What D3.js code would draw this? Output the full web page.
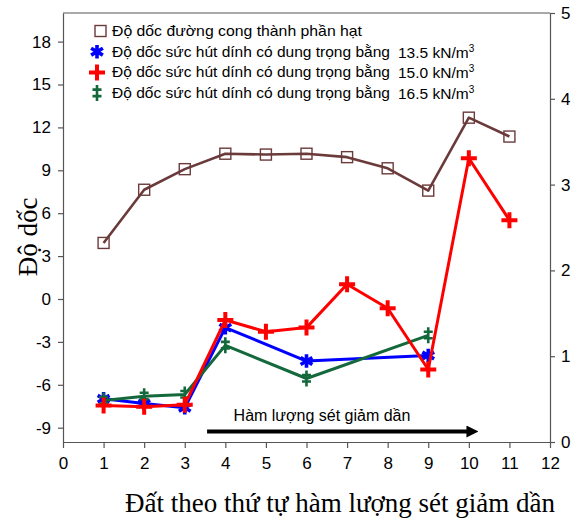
<!DOCTYPE html>
<html>
<head>
<meta charset="utf-8">
<script src="https://cdn.jsdelivr.net/npm/d3@7/dist/d3.min.js"></script>
<style>
  html, body { margin: 0; padding: 0; background: #fff; }
  svg { display: block; }
  .sans { font-family: "Liberation Sans", Arial, sans-serif; }
  .serif { font-family: "Liberation Serif", "Times New Roman", serif; }
</style>
</head>
<body>
<svg id="chart" width="576" height="522"></svg>
<script>
// Soils in order of decreasing clay content
const soils = [1, 2, 3, 4, 5, 6, 7, 8, 9, 10, 11];

// Slope of the grain-size curve (right axis)
const gradingSlope = [2.32, 2.94, 3.18, 3.36, 3.35, 3.36, 3.32, 3.19, 2.93, 3.78, 3.56];

// Slope of the suction curve for each unit weight (left axis); null = not measured
const suction135 = [-6.98, -7.31, -7.61, -2.0, null, -4.34, null, null, -3.95, null, null];
const suction150 = [-7.45, -7.54, -7.4, -1.47, -2.29, -2.0, 1.03, -0.65, -4.93, 9.84, 5.51];
const suction165 = [-7.1, -6.8, -6.68, -3.24, null, -5.56, null, null, -2.54, null, null];

const xTicks = [0, 1, 2, 3, 4, 5, 6, 7, 8, 9, 10, 11, 12];
const yLeftTicks = [-9, -6, -3, 0, 3, 6, 9, 12, 15, 18];
const yRightTicks = [0, 1, 2, 3, 4, 5];

const legendLabels = [
  "Độ dốc đường cong thành phần hạt",
  "Độ dốc sức hút dính có dung trọng bằng",
  "Độ dốc sức hút dính có dung trọng bằng",
  "Độ dốc sức hút dính có dung trọng bằng"
];
const legendUnits = [null, "13.5", "15.0", "16.5"];

const svg = d3.select("#chart");
const L = 63, R = 550, T = 13, B = 442;

const x = d3.scaleLinear().domain([0, 12]).range([L, R]);
const yL = d3.scaleLinear().domain([-10, 20]).range([B, T]);
const yR = d3.scaleLinear().domain([0, 5]).range([B, T]);

const axisColor = "#555";
const plainNum = d => String(d);

// Frame top edge
svg.append("line").attr("x1", L).attr("x2", R).attr("y1", T).attr("y2", T)
  .attr("stroke", axisColor).attr("stroke-width", 1.2);

function styleAxis(g) {
  g.select(".domain").attr("stroke", axisColor).attr("stroke-width", 1.2);
  g.selectAll(".tick line").attr("stroke", axisColor).attr("stroke-width", 1.2);
  g.selectAll(".tick text").attr("fill", "#000")
    .attr("font-family", "Liberation Sans, Arial, sans-serif").attr("font-size", 17);
}

svg.append("g").attr("transform", `translate(0,${B})`)
  .call(d3.axisBottom(x).tickValues(xTicks).tickFormat(plainNum)
    .tickSize(6).tickSizeOuter(0).tickPadding(9))
  .call(styleAxis);

svg.append("g").attr("transform", `translate(${L},0)`)
  .call(d3.axisLeft(yL).tickValues(yLeftTicks).tickFormat(plainNum)
    .tickSize(5).tickSizeOuter(0).tickPadding(7))
  .call(styleAxis);

svg.append("g").attr("transform", `translate(${R},0)`)
  .call(d3.axisRight(yR).tickValues(yRightTicks).tickFormat(plainNum)
    .tickSize(5).tickSizeOuter(0).tickPadding(6))
  .call(styleAxis);

// Axis titles
svg.append("text").attr("class", "serif")
  .attr("transform", "translate(37,237) rotate(-90)")
  .attr("text-anchor", "middle").attr("font-size", 27).text("Độ dốc");

svg.append("text").attr("class", "serif")
  .attr("x", 340).attr("y", 512)
  .attr("text-anchor", "middle").attr("font-size", 27)
  .text("Đất theo thứ tự hàm lượng sét giảm dần");

// Trend arrow
const defs = svg.append("defs");
defs.append("marker").attr("id", "arrowhead")
  .attr("viewBox", "0 0 10 10").attr("refX", 2).attr("refY", 5)
  .attr("markerWidth", 3).attr("markerHeight", 3).attr("orient", "auto")
  .append("path").attr("d", "M0,0 L10,5 L0,10 Z").attr("fill", "#000");

svg.append("line")
  .attr("x1", x(3.55)).attr("x2", x(10.0)).attr("y1", 431.5).attr("y2", 431.5)
  .attr("stroke", "#000").attr("stroke-width", 4)
  .attr("marker-end", "url(#arrowhead)");

svg.append("text").attr("class", "sans")
  .attr("x", 322).attr("y", 421).attr("text-anchor", "middle")
  .attr("font-size", 16).text("Hàm lượng sét giảm dần");

// Marker shapes
function drawSquare(g, cx, cy, color) {
  g.append("rect").attr("x", cx - 5.5).attr("y", cy - 5.5).attr("width", 11).attr("height", 11)
    .attr("fill", "none").attr("stroke", color).attr("stroke-width", 1.4);
}
function drawStar(g, cx, cy, color) {
  g.append("path")
    .attr("d", d3.symbol().type(d3.symbolAsterisk).size(130)())
    .attr("transform", `translate(${cx},${cy})`)
    .attr("fill", "none").attr("stroke", color).attr("stroke-width", 3.6);
}
function drawPlus(g, cx, cy, color) {
  g.append("path")
    .attr("d", `M${cx - 8},${cy}H${cx + 8}M${cx},${cy - 8}V${cy + 8}`)
    .attr("fill", "none").attr("stroke", color).attr("stroke-width", 4);
}
function drawDDagger(g, cx, cy, color) {
  g.append("path")
    .attr("d", `M${cx},${cy - 8}V${cy + 8}M${cx - 4.5},${cy - 3.5}H${cx + 4.5}M${cx - 4.5},${cy + 3}H${cx + 4.5}`)
    .attr("fill", "none").attr("stroke", color).attr("stroke-width", 2.6);
}

const series = [
  { values: gradingSlope, y: yR, color: "#6b3a3a", width: 2.6, marker: drawSquare },
  { values: suction135, y: yL, color: "#0000ff", width: 3, marker: drawStar },
  { values: suction165, y: yL, color: "#14693c", width: 3, marker: drawDDagger },
  { values: suction150, y: yL, color: "#ff0000", width: 3, marker: drawPlus }
];

series.forEach(s => {
  const pts = soils.map((d, i) => ({ x: d, v: s.values[i] })).filter(p => p.v !== null);
  const g = svg.append("g");
  g.append("path").datum(pts)
    .attr("d", d3.line().x(p => x(p.x)).y(p => s.y(p.v)))
    .attr("fill", "none").attr("stroke", s.color).attr("stroke-width", s.width)
    .attr("stroke-linejoin", "round");
  pts.forEach(p => s.marker(g, x(p.x), s.y(p.v), s.color));
});

// Legend
const legendOrder = [series[0], series[1], series[3], series[2]];
const legend = svg.append("g").attr("class", "sans");
legendLabels.forEach((label, i) => {
  const cy = 31 + i * 20.7;
  legendOrder[i].marker(legend, i === 0 ? 100.5 : 97, cy, legendOrder[i].color);
  legend.append("text").attr("x", 112).attr("y", cy + 5)
    .attr("font-size", 15)
    .attr("textLength", i === 0 ? 250 : 278).attr("lengthAdjust", "spacingAndGlyphs")
    .text(label);
  if (legendUnits[i]) {
    const t = legend.append("text").attr("x", 398).attr("y", cy + 6).attr("font-size", 15.5);
    t.append("tspan").text(legendUnits[i] + " kN/m");
    t.append("tspan").attr("font-size", 10).attr("dy", -6).text("3");
  }
});
</script>
</body>
</html>
